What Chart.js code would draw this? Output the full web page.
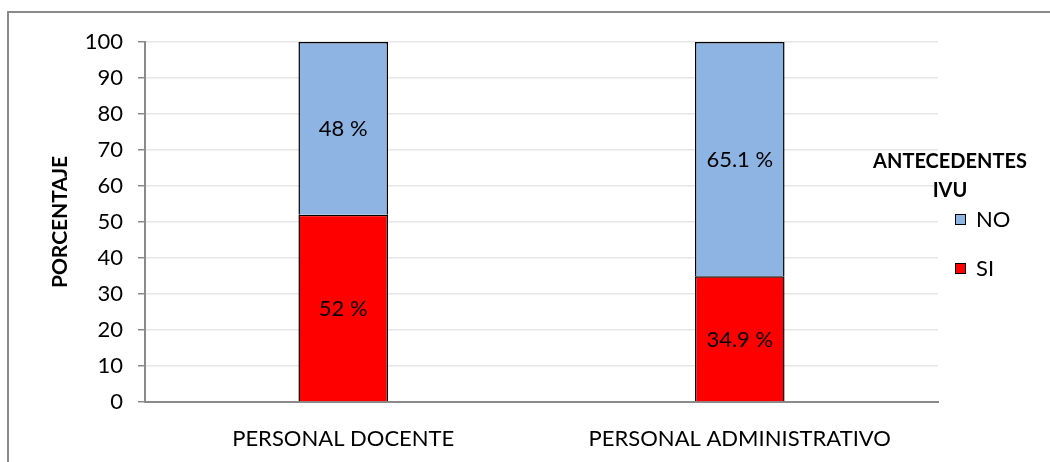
<!DOCTYPE html>
<html>
<head>
<meta charset="utf-8">
<script src="https://cdn.jsdelivr.net/npm/chart.js@4/dist/chart.umd.min.js"></script>
<style>
  html, body { margin: 0; padding: 0; background: #fff; }
  #wrap { position: relative; width: 1050px; height: 462px; overflow: hidden; }
  #frame {
    position: absolute; left: 7px; top: 11px; width: 1100px; height: 500px;
    border-left: 2px solid #8a8a8a; border-top: 2px solid #8a8a8a;
  }
  #chart { position: absolute; left: 0; top: 0; }
  #legend { position: absolute; left: 850px; top: 0; width: 200px; font-family: Lato, "Open Sans", sans-serif; color: #000; }
  #legend .title { position: absolute; left: 0; top: 146px; width: 200px; font-weight: bold; font-size: 20px; line-height: 29px; text-align: center; }
  #legend .item { position: absolute; left: 105px; font-size: 22px; line-height: 24px; height: 24px; }
  #legend .box { display: inline-block; width: 9px; height: 9px; border: 1.5px solid #000; margin-right: 10px; vertical-align: 2px; }
</style>
</head>
<body>
<div id="wrap">
  <div id="frame"></div>
  <canvas id="chart" width="1050" height="462"></canvas>
  <div id="legend"></div>
</div>
<script>
// --- Data ---
const categories = ["PERSONAL DOCENTE", "PERSONAL ADMINISTRATIVO"];
const siValues = [52, 34.9];
const noValues = [48, 65.1];
const yTicks = [0, 10, 20, 30, 40, 50, 60, 70, 80, 90, 100];
const legendTitle = ["ANTECEDENTES", "IVU"];

const FONT = "Lato, 'Open Sans', sans-serif";

// draws "52 %" etc. in the middle of each segment
const valueLabels = {
  id: "valueLabels",
  afterDatasetsDraw(chart) {
    const ctx = chart.ctx;
    ctx.save();
    ctx.font = "22px " + FONT;
    ctx.fillStyle = "#000";
    ctx.textAlign = "center";
    ctx.textBaseline = "middle";
    chart.data.datasets.forEach((ds, i) => {
      chart.getDatasetMeta(i).data.forEach((bar, j) => {
        const { x, y, base } = bar.getProps(["x", "y", "base"], true);
        ctx.fillText(ds.data[j] + " %", x, (y + base) / 2 + 1);
      });
    });
    ctx.restore();
  },
};

const chart = new Chart(document.getElementById("chart"), {
  type: "bar",
  data: {
    labels: categories,
    datasets: [
      { label: "SI", data: siValues, backgroundColor: "#ff0000", borderColor: "#000", borderWidth: 1.5 },
      { label: "NO", data: noValues, backgroundColor: "#8eb4e3", borderColor: "#000", borderWidth: 1.5 },
    ],
  },
  options: {
    responsive: false,
    animation: false,
    layout: { padding: { top: 42, right: 112, bottom: 0, left: 0 } },
    datasets: { bar: { barPercentage: 1, categoryPercentage: 0.226 } },
    plugins: {
      legend: { display: false },
      tooltip: { enabled: false },
    },
    scales: {
      x: {
        stacked: true,
        grid: { display: false },
        border: { color: "#8a8a8a", width: 2 },
        ticks: { color: "#000", font: { family: FONT, size: 22 }, padding: 16 },
        afterFit: (s) => { s.height = 60; },
      },
      y: {
        stacked: true,
        min: 0,
        max: 100,
        afterBuildTicks: (s) => { s.ticks = yTicks.map((v) => ({ value: v })); },
        grid: { color: "#e6e6e6", lineWidth: 1.5, tickLength: 7, tickColor: "#8a8a8a" },
        border: { color: "#8a8a8a", width: 2 },
        ticks: { color: "#000", font: { family: FONT, size: 22 }, padding: 15 },
        title: {
          display: true,
          text: "PORCENTAJE",
          color: "#000",
          font: { family: FONT, size: 21, weight: "bold" },
          padding: { top: 48, bottom: 0 },
        },
        afterFit: (s) => { s.width = 145; },
      },
    },
  },
  plugins: [valueLabels],
});

// --- HTML legend, NO on top like the stack ---
const legendEl = document.getElementById("legend");
legendEl.innerHTML = `<div class="title">${legendTitle.join("<br>")}</div>`;
const items = chart.data.datasets.slice().reverse();
const itemTops = [207, 256];
items.forEach((ds, i) => {
  legendEl.innerHTML += `<div class="item" style="top:${itemTops[i]}px"><span class="box" style="background:${ds.backgroundColor}"></span>${ds.label}</div>`;
});
</script>
</body>
</html>
